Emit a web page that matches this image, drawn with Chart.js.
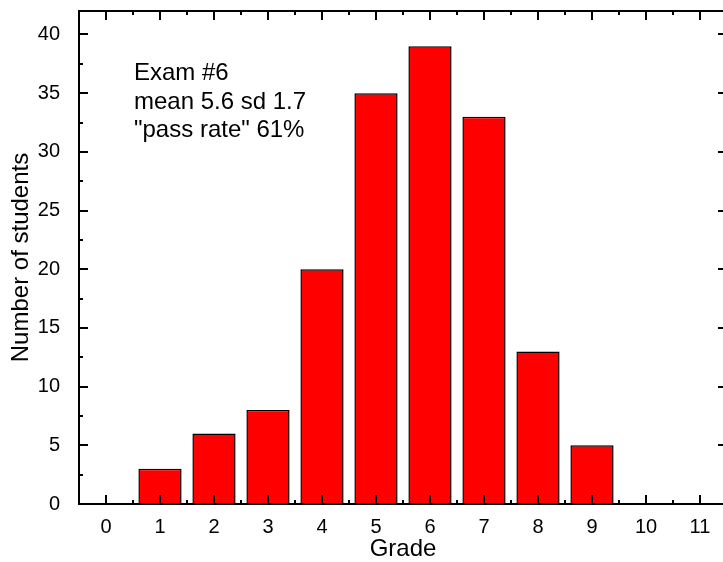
<!DOCTYPE html>
<html>
<head>
<meta charset="utf-8">
<script src="https://cdn.jsdelivr.net/npm/chart.js@4/dist/chart.umd.min.js"></script>
<style>
    html, body { margin: 0; padding: 0; background: #fff; }
    #wrap { width: 723px; height: 562px; overflow: hidden; }
</style>
</head>
<body>
<div id="wrap"><canvas id="chart" width="740" height="562"></canvas></div>
<script>
// Data
const grades = [0, 1, 2, 3, 4, 5, 6, 7, 8, 9, 10, 11];
const students = [0, 3, 6, 8, 20, 35, 39, 33, 13, 5, 0, 0];
const xTickValues = [0, 1, 2, 3, 4, 5, 6, 7, 8, 9, 10, 11];
const yTickValues = [0, 5, 10, 15, 20, 25, 30, 35, 40];
const noteLines = ['Exam #6', 'mean 5.6 sd 1.7', '"pass rate" 61%'];

const FONT = 'Arial, "Liberation Sans", sans-serif';

// Box frame with inward major/minor ticks on all four sides
const framePlugin = {
    id: 'frame',
    afterDraw(chart) {
        const { ctx, chartArea: a, scales: { x, y } } = chart;
        ctx.save();
        ctx.strokeStyle = '#000';
        ctx.lineWidth = 2;
        ctx.strokeRect(a.left, a.top, a.right - a.left, a.bottom - a.top);

        ctx.beginPath();
        for (let v = x.min + 0.5; v < x.max; v += 0.5) {
            const px = Math.round(x.getPixelForValue(v));
            const len = Number.isInteger(v) ? 9 : 4;
            ctx.moveTo(px, a.bottom); ctx.lineTo(px, a.bottom - len);
            ctx.moveTo(px, a.top); ctx.lineTo(px, a.top + len);
        }
        for (let v = 2.5; v < y.max; v += 2.5) {
            const py = Math.round(y.getPixelForValue(v));
            const len = v % 5 === 0 ? 9 : 4;
            ctx.moveTo(a.left, py); ctx.lineTo(a.left + len, py);
            ctx.moveTo(a.right, py); ctx.lineTo(a.right - len, py);
        }
        ctx.stroke();

        // Annotation text
        ctx.fillStyle = '#000';
        ctx.font = '24px ' + FONT;
        ctx.textBaseline = 'alphabetic';
        noteLines.forEach((line, i) => {
            ctx.fillText(line, a.left + 55, a.top + 69 + i * 28.5);
        });
        ctx.restore();
    }
};

new Chart(document.getElementById('chart'), {
    type: 'bar',
    data: {
        datasets: [{
            data: grades.map((g, i) => ({ x: g, y: students[i] })),
            backgroundColor: '#ff0000',
            borderColor: '#000000',
            borderWidth: 1.5,
            barPercentage: 0.8,
            categoryPercentage: 1.0
        }]
    },
    options: {
        responsive: false,
        animation: false,
        layout: { padding: { top: 11, right: 13, left: 0, bottom: 0 } },
        plugins: {
            legend: { display: false },
            tooltip: { enabled: false }
        },
        scales: {
            x: {
                type: 'linear',
                offset: false,
                min: -0.5,
                max: 11.5,
                afterBuildTicks: s => { s.ticks = xTickValues.map(v => ({ value: v })); },
                afterFit: s => {
                    s.height = 58;
                    s.paddingLeft = 0;
                    s.paddingRight = 0;
                },
                grid: { display: false },
                border: { display: false },
                ticks: {
                    color: '#000',
                    font: { family: FONT, size: 20 },
                    padding: 3,
                    maxRotation: 0
                },
                title: {
                    display: true,
                    text: 'Grade',
                    color: '#000',
                    font: { family: FONT, size: 24 },
                    padding: { top: 0, bottom: -2 }
                }
            },
            y: {
                min: 0,
                max: 42,
                afterBuildTicks: s => { s.ticks = yTickValues.map(v => ({ value: v })); },
                afterFit: s => {
                    s.width = 79;
                    s.paddingTop = 0;
                    s.paddingBottom = 0;
                },
                grid: { display: false },
                border: { display: false },
                ticks: {
                    color: '#000',
                    font: { family: FONT, size: 20 },
                    padding: 11
                },
                title: {
                    display: true,
                    text: 'Number of students',
                    color: '#000',
                    font: { family: FONT, size: 24 },
                    padding: { top: 7, bottom: 0 }
                }
            }
        }
    },
    plugins: [framePlugin]
});
</script>
</body>
</html>
